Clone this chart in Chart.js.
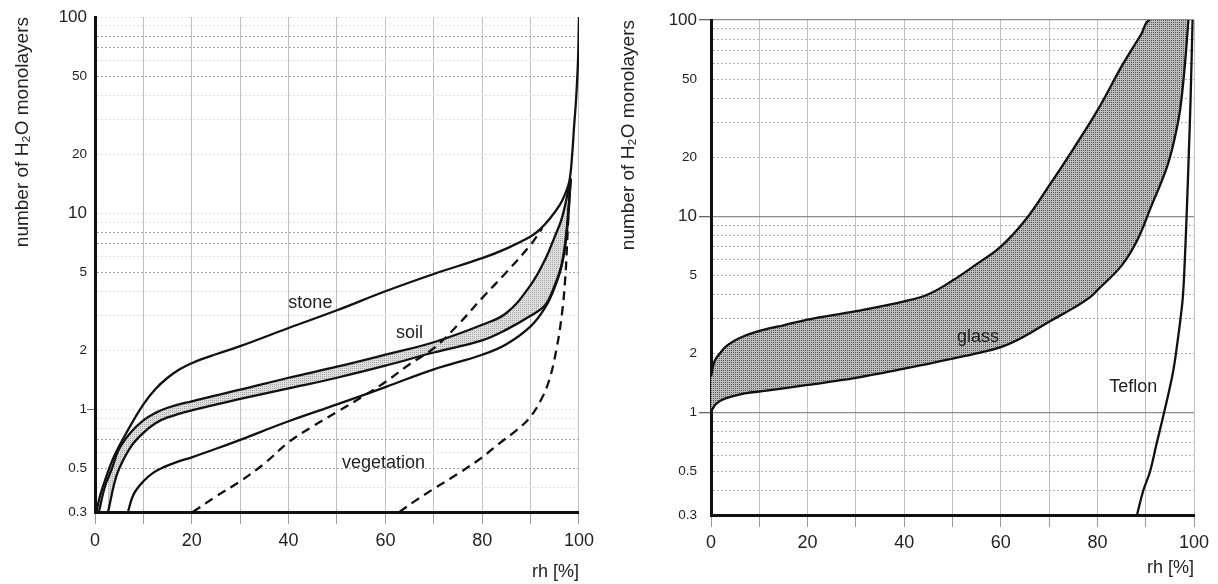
<!DOCTYPE html>
<html>
<head>
<meta charset="utf-8">
<script src="https://cdn.jsdelivr.net/npm/chart.js@4.4.1/dist/chart.umd.min.js"></script>
<style>
  body { margin: 0; background: #fff; }
  canvas { position: absolute; top: 0; }
  #izq { left: 0; }
  #der { left: 605px; }
</style>
</head>
<body>
<canvas id="izq" width="600" height="584"></canvas>
<canvas id="der" width="613" height="584"></canvas>
<script>
// eje y (log) y eje x
const yGrid = [0.3, 0.4, 0.5, 0.6, 0.7, 0.8, 0.9, 1, 2, 3, 4, 5, 6, 7, 8, 9, 10, 20, 30, 40, 50, 60, 70, 80, 90, 100];
const yLabels = [0.3, 0.5, 1, 2, 5, 10, 20, 50, 100];
const xLabels = [0, 20, 40, 60, 80, 100];

// panel izquierdo
const stoneX = [0.3, 1, 2, 4, 7, 10, 12.5, 15, 17.5, 20, 22.5, 25, 30, 40, 50, 60, 70, 80, 85, 90, 92, 94, 96, 97, 98, 98.6, 99, 99.4, 99.8, 100];
const stoneY = [0.3, 0.36, 0.43, 0.58, 0.8, 1.06, 1.27, 1.45, 1.6, 1.72, 1.82, 1.91, 2.1, 2.6, 3.2, 4.0, 4.9, 5.9, 6.6, 7.6, 8.3, 9.4, 11, 12.3, 14.5, 20, 28, 38, 60, 100];
const soilTopX = [0.8, 2, 3.5, 5, 7.5, 10, 12.5, 15, 20, 30, 40, 50, 60, 70, 80, 85, 90, 93, 95, 96.5, 98.3];
const soilTopY = [0.3, 0.4, 0.5, 0.63, 0.77, 0.88, 0.96, 1.02, 1.1, 1.26, 1.45, 1.65, 1.9, 2.2, 2.7, 3.1, 4.3, 5.8, 7.6, 9.5, 15];
const soilLowX = [2.7, 4, 5, 7.5, 10, 12.5, 15, 20, 30, 40, 50, 60, 70, 80, 85, 90, 93, 95, 96.5, 97.5, 98.3];
const soilLowY = [0.3, 0.42, 0.5, 0.65, 0.76, 0.85, 0.91, 0.99, 1.13, 1.28, 1.45, 1.67, 1.95, 2.25, 2.55, 3.0, 3.4, 4.3, 5.6, 8.5, 15];
const vegX = [6.8, 8, 10, 12, 14, 17, 20, 25, 30, 40, 50, 60, 70, 80, 85, 90, 93, 95, 96.5, 97.5, 98.3];
const vegY = [0.3, 0.37, 0.43, 0.475, 0.505, 0.54, 0.57, 0.63, 0.7, 0.87, 1.06, 1.3, 1.6, 1.9, 2.15, 2.65, 3.3, 4.2, 5.5, 8, 15];
const vegDash1X = [20.2, 25, 30, 35, 40, 45, 50, 55, 60, 65, 70, 75, 80, 85, 90, 92.4];
const vegDash1Y = [0.3, 0.36, 0.43, 0.53, 0.68, 0.82, 0.97, 1.15, 1.38, 1.7, 2.05, 2.7, 3.7, 5.0, 6.9, 8.4];
const vegDash2X = [62.9, 66, 69.7, 75, 80, 83.5, 87, 89.7, 92, 93.8, 95.3, 96.5, 97.2, 97.5, 97.9, 98.2];
const vegDash2Y = [0.3, 0.34, 0.39, 0.47, 0.57, 0.67, 0.78, 0.9, 1.1, 1.4, 2.0, 3.1, 4.8, 6.7, 10.7, 14];

// panel derecho
const glassTopX = [0, 0.5, 1, 2, 3, 5, 7, 9, 12, 15, 20, 30, 40, 45, 50, 55, 60, 65, 70, 75, 80, 85, 87, 89, 90.9, 98.85];
const glassTopY = [1.52, 1.75, 1.88, 2.02, 2.16, 2.33, 2.46, 2.56, 2.68, 2.78, 2.97, 3.28, 3.68, 4.0, 4.7, 5.7, 7.0, 9.5, 14.3, 22, 34.6, 58, 70, 84, 100, 100];
const glassLowX = [0, 0.5, 1, 2, 4, 7, 11.5, 20, 30, 40, 45, 50, 55, 60, 65, 70, 75, 78.5, 80, 85, 88.2, 91, 94.4, 96, 97.1, 98, 98.85];
const glassLowY = [1.0, 1.06, 1.1, 1.15, 1.2, 1.25, 1.29, 1.38, 1.5, 1.67, 1.77, 1.88, 2.0, 2.15, 2.45, 2.9, 3.4, 3.87, 4.2, 5.6, 7.5, 11, 17.8, 25, 34.6, 55, 100];
const teflonX = [88.2, 89.5, 90.9, 92.3, 93.6, 95.6, 96.6, 97.2, 97.7, 98.1, 98.5, 98.9, 99.3, 99.7];
const teflonY = [0.3, 0.4, 0.5, 0.7, 0.95, 1.58, 2.3, 3.0, 3.9, 6, 10.5, 20, 40, 100];

const fuente = '"Liberation Sans", Arial, Helvetica, sans-serif';

const pts = (xs, ys) => xs.map((x, i) => ({ x: x, y: ys[i] }));

//trama de puntos para los rellenos
const trama = (oscuro, claro) => {
  const c = document.createElement("canvas");
  c.width = 2;
  c.height = 2;
  const g = c.getContext("2d");
  g.fillStyle = claro;
  g.fillRect(0, 0, 2, 2);
  g.fillStyle = oscuro;
  g.fillRect(0, 0, 1, 1);
  return g.createPattern(c, "repeat");
};

//textos dentro del grafico
const notas = {
  id: "notas",
  afterDatasetsDraw(chart, args, opts) {
    const ctx = chart.ctx;
    const { x, y } = chart.scales;
    ctx.save();
    ctx.font = "18px " + fuente;
    ctx.fillStyle = "#222";
    ctx.textAlign = "center";
    ctx.textBaseline = "middle";
    opts.items.forEach((n) => {
      ctx.fillText(n.text, x.getPixelForValue(n.x), y.getPixelForValue(n.y));
    });
    ctx.restore();
  },
};

const linea = (data, extra) =>
  Object.assign(
    {
      data: data,
      borderColor: "#111",
      borderWidth: 2.3,
      pointRadius: 0,
      fill: false,
      tension: 0.4,
    },
    extra || {}
  );

const opciones = (p) => ({
  responsive: false,
  animation: false,
  layout: { padding: p.padding },
  plugins: {
    legend: { display: false },
    tooltip: { enabled: false },
    filler: { drawTime: "beforeDatasetsDraw" },
    notas: { items: p.notas },
  },
  scales: {
    x: {
      type: "linear",
      min: 0,
      max: 100,
      afterFit: (s) => { s.height = p.xAlto; },
      ticks: {
        stepSize: 10,
        autoSkip: false,
        maxRotation: 0,
        padding: p.xPad,
        color: "#222",
        font: { family: fuente, size: 18 },
        callback: (v) => (xLabels.includes(v) ? String(v) : ""),
      },
      grid: { color: "#c0c0c0", lineWidth: 1, tickLength: 12, tickColor: "#999" },
      border: { color: "#111", width: 3 },
      title: {
        display: true,
        text: "rh [%]",
        align: "end",
        color: "#222",
        font: { family: fuente, size: 18 },
        padding: { top: 0, bottom: p.xTitPad },
      },
    },
    y: {
      type: "logarithmic",
      min: 0.3,
      max: 100,
      afterFit: (s) => { s.width = p.yAncho; },
      afterBuildTicks: (s) => { s.ticks = yGrid.map((v) => ({ value: v })); },
      ticks: {
        autoSkip: false,
        padding: p.yPad,
        color: "#222",
        font: (c) => ({ family: fuente, size: c.tick && (c.tick.value === 100 || c.tick.value === 10) ? 17 : 13.5 }),
        callback: (v) => (yLabels.includes(v) ? String(v) : ""),
      },
      grid: {
        lineWidth: (c) => (c.tick && p.lineas.includes(c.tick.value) ? 1.3 : 1),
        color: (c) => {
          if (!c.tick) return "#ccc";
          if (p.lineas.includes(c.tick.value)) return "#8c8c8c";
          if (p.fuertes.includes(c.tick.value)) return p.colorFuerte;
          return "#e0e0e0";
        },
        tickLength: p.yTick,
        tickColor: (c) => (c.tick && p.marcas.includes(c.tick.value) ? "#666" : "rgba(0,0,0,0)"),
      },
      border: {
        color: "#111",
        width: 3,
        dash: (c) => (c.tick && p.lineas.includes(c.tick.value) ? [] : [2, 2]),
      },
      title: {
        display: true,
        text: "number of H₂O monolayers",
        align: "end",
        color: "#222",
        font: { family: fuente, size: 19 },
        padding: { top: p.yTitPad, bottom: 0 },
      },
    },
  },
});

const grafIzq = new Chart(document.getElementById("izq"), {
  type: "line",
  data: {
    datasets: [
      linea(pts(stoneX, stoneY)),
      linea(pts(soilTopX, soilTopY), { fill: { target: 2 }, backgroundColor: trama("#a8a8a8", "#dedede") }),
      linea(pts(soilLowX, soilLowY)),
      linea(pts(vegX, vegY)),
      linea(pts(vegDash1X, vegDash1Y), { borderDash: [9, 6] }),
      linea(pts(vegDash2X, vegDash2Y), { borderDash: [9, 6] }),
    ],
  },
  options: opciones({
    padding: { left: 0, top: 17, right: 20, bottom: 0 },
    xAlto: 72,
    xPad: 6,
    xTitPad: 1,
    yAncho: 95,
    yPad: 0,
    yTick: 8,
    yTitPad: 11,
    lineas: [],
    fuertes: [0.5, 0.7, 5, 7, 8, 50, 70, 80],
    colorFuerte: "#a6a6a6",
    marcas: [1],
    notas: [
      { text: "stone", x: 44.5, y: 3.5 },
      { text: "soil", x: 65, y: 2.44 },
      { text: "vegetation", x: 59.6, y: 0.53 },
    ],
  }),
  plugins: [notas],
});

const grafDer = new Chart(document.getElementById("der"), {
  type: "line",
  data: {
    datasets: [
      linea(pts(glassTopX, glassTopY), {
        fill: { target: 1 },
        backgroundColor: trama("#555", "#bdbdbd"),
        segment: { borderColor: (c) => (c.p0.parsed.y >= 100 && c.p1.parsed.y >= 100 ? "rgba(0,0,0,0)" : undefined) },
      }),
      linea(pts(glassLowX, glassLowY)),
      linea(pts(teflonX, teflonY)),
    ],
  },
  options: opciones({
    padding: { left: 0, top: 20, right: 24, bottom: 0 },
    xAlto: 69,
    xPad: 5,
    xTitPad: 5,
    yAncho: 106,
    yPad: 2,
    yTick: 12,
    yTitPad: 12,
    lineas: [1, 10, 100],
    fuertes: yGrid,
    colorFuerte: "#b0b0b0",
    marcas: [1, 10, 100],
    notas: [
      { text: "glass", x: 55.3, y: 2.41 },
      { text: "Teflon", x: 87.4, y: 1.34 },
    ],
  }),
  plugins: [notas],
});
</script>
</body>
</html>
